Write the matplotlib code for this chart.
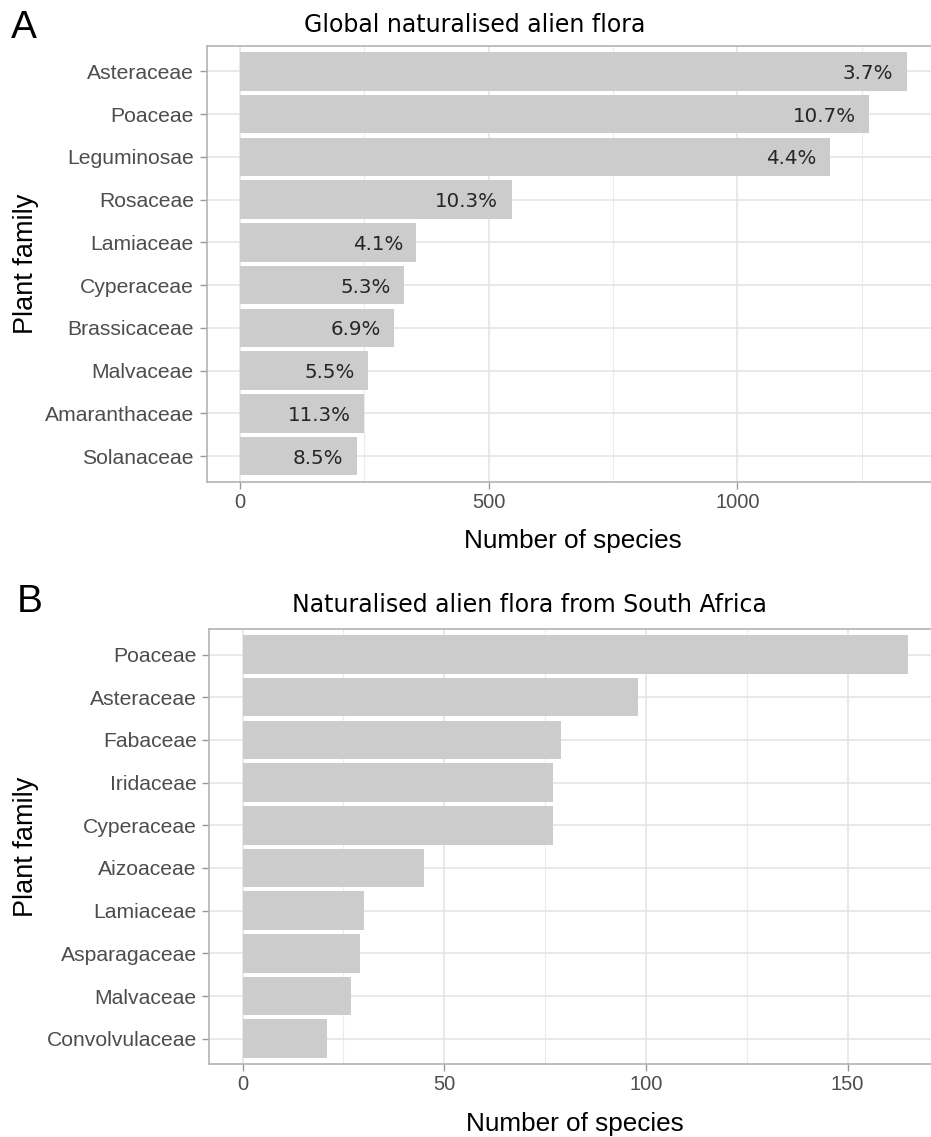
import matplotlib
matplotlib.use('Agg')
import matplotlib.pyplot as plt
from matplotlib.ticker import MultipleLocator

# top ten families, largest first
global_families = ['Asteraceae', 'Poaceae', 'Leguminosae', 'Rosaceae', 'Lamiaceae',
                   'Cyperaceae', 'Brassicaceae', 'Malvaceae', 'Amaranthaceae', 'Solanaceae']
global_counts = [1340, 1264, 1186, 546, 355, 330, 310, 258, 250, 235]
global_pct = ['3.7%', '10.7%', '4.4%', '10.3%', '4.1%', '5.3%', '6.9%', '5.5%', '11.3%', '8.5%']

sa_families = ['Poaceae', 'Asteraceae', 'Fabaceae', 'Iridaceae', 'Cyperaceae',
               'Aizoaceae', 'Lamiaceae', 'Asparagaceae', 'Malvaceae', 'Convolvulaceae']
sa_counts = [165, 98, 79, 77, 77, 45, 30, 29, 27, 21]

plt.rcParams['font.family'] = ['Liberation Sans', 'DejaVu Sans']

W, H = 931, 1137
fig = plt.figure(figsize=(W / 100, H / 100), dpi=100)


def px_axes(left, top, right, bottom):
    return fig.add_axes([left / W, 1 - bottom / H, (right - left) / W, (bottom - top) / H])


def panel(ax, families, counts, major, minor, xlabel_y, ylabel_x):
    n = len(families)
    ax.set_axisbelow(True)
    ax.barh(range(n), counts, height=0.9, color='#cccccc', edgecolor='none', zorder=2)
    ax.set_yticks(range(n))
    ax.set_yticklabels(families)
    ax.set_ylim(n - 0.4, -0.6)
    top = max(counts)
    ax.set_xlim(-0.05 * top, 1.05 * top)
    ax.xaxis.set_major_locator(MultipleLocator(major))
    ax.xaxis.set_minor_locator(MultipleLocator(minor))
    ax.grid(which='major', color='#e3e3e3', lw=1.1)
    ax.grid(which='minor', axis='x', color='#ebebeb', lw=0.8)
    ax.tick_params(which='minor', length=0)
    ax.tick_params(which='major', length=4.8, width=1.0, color='#999999',
                   labelcolor='#4d4d4d')
    ax.tick_params(axis='x', pad=3, labelsize=14.5)
    ax.tick_params(axis='y', pad=4.3, labelsize=15.2)
    for s in ax.spines.values():
        s.set_color('#b3b3b3')
        s.set_linewidth(1.2)
    ax.set_xlabel('Number of species', fontsize=18.8, va='baseline')
    ax.xaxis.set_label_coords(0.5, xlabel_y)
    ax.set_ylabel('Plant family', fontsize=19.5, va='baseline')
    ax.yaxis.set_label_coords(ylabel_x, 0.5)


ax1 = px_axes(206.5, 45.7, 940, 481.7)
panel(ax1, global_families, global_counts, 500, 250, -0.1528, -0.2361)
for i, (v, p) in enumerate(zip(global_counts, global_pct)):
    ax1.annotate(p, xy=(v, i), xytext=(-9.5, 0), textcoords='offset points',
                 ha='right', va='center_baseline', fontsize=14.3, family='DejaVu Sans',
                 color='#262626', zorder=3)

ax2 = px_axes(209.3, 629, 941.3, 1064.3)
panel(ax2, sa_families, sa_counts, 50, 25, -0.1532, -0.2404)

fig.text(304 / W, 1 - 32.3 / H, 'Global naturalised alien flora',
         ha='left', va='baseline', fontsize=17, family='DejaVu Sans')
fig.text(292 / W, 1 - 611.7 / H, 'Naturalised alien flora from South Africa',
         ha='left', va='baseline', fontsize=17, family='DejaVu Sans')
fig.text(11 / W, 1 - 38.3 / H, 'A', fontsize=28, va='baseline')
fig.text(17 / W, 1 - 612.3 / H, 'B', fontsize=28, va='baseline')

fig.savefig('out.png', dpi=100)
